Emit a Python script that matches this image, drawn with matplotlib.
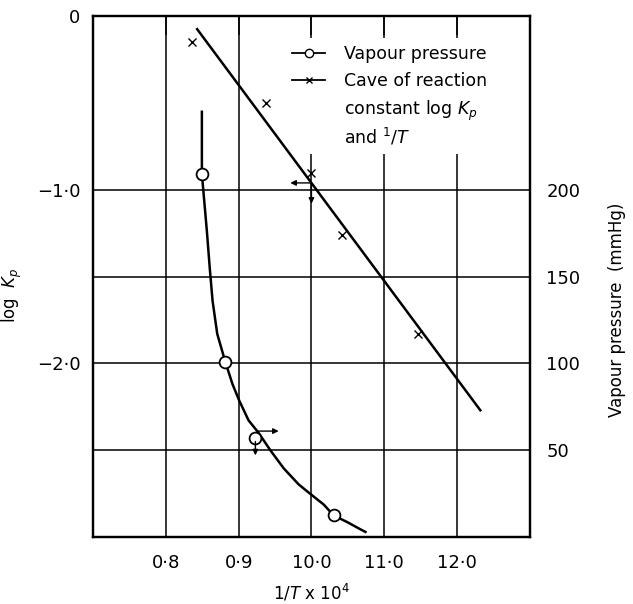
import matplotlib.pyplot as plt
from matplotlib.lines import Line2D

# x axis: 1/T x 10^4 (tick labels as printed on the original)
x_ticks = [0.8, 0.9, 1.0, 1.1, 1.2]
x_tick_labels = ['0·8', '0·9', '10·0', '11·0', '12·0']

# left axis: log Kp
logk_ticks = [0, -1.0, -2.0]
logk_tick_labels = ['0', '−1·0', '−2·0']

# right axis: vapour pressure (mmHg)
vp_ticks = [50, 100, 150, 200]

# reaction constant points (crosses) and the straight line through them
kp_x = [0.836, 0.938, 1.000, 1.042, 1.146]
kp_logk = [-0.15, -0.50, -0.90, -1.26, -1.83]
kp_line_x = [0.843, 1.232]
kp_line_logk = [-0.074, -2.27]

# vapour pressure points (circles) and the drawn curve
vp_x = [0.8495, 0.8816, 0.9228, 1.0305]
vp_mmhg = [209, 101, 57, 12.4]
vp_curve_x = [0.8495, 0.8495, 0.8509, 0.8564, 0.8603, 0.8642, 0.8706,
              0.8816, 0.8916, 0.9008, 0.9136, 0.9274, 0.9435, 0.9618,
              0.9824, 0.9985, 1.0168, 1.0305, 1.0490, 1.0673, 1.0742]
vp_curve_mmhg = [245, 209, 202.5, 176, 155, 136, 117,
                 101, 88, 78.6, 67.2, 60, 50, 39.6,
                 30.3, 24.8, 18.7, 12.4, 8.6, 4.4, 2.9]

fig = plt.figure(figsize=(6.33, 6.04), dpi=100)
ax = fig.add_axes([0.147, 0.111, 0.690, 0.862])
ax2 = ax.twinx()

lw = 1.8
# line sits above the legend box so it is not hidden by it
ax.plot(kp_line_x, kp_line_logk, color='black', lw=lw, zorder=6)
ax.plot(kp_x, kp_logk, linestyle='none', marker='x', color='black', ms=5.5, mew=1.0)

ax2.plot(vp_curve_x, vp_curve_mmhg, color='black', lw=lw, solid_joinstyle='round')
ax2.plot(vp_x, vp_mmhg, linestyle='none', marker='o', ms=8.5, mfc='white', mec='black', mew=1.3)

# reading arrows
arrow = dict(arrowstyle='-|>', color='black', lw=1.0, mutation_scale=8, shrinkA=0, shrinkB=0)
ax.annotate('', xy=(0.971, -0.96), xytext=(1.0, -0.96), arrowprops=arrow)
ax.annotate('', xy=(1.0, -1.08), xytext=(1.0, -0.96), arrowprops=arrow)
ax2.annotate('', xy=(0.955, 61), xytext=(0.927, 61), arrowprops=arrow)
ax2.annotate('', xy=(0.923, 47), xytext=(0.923, 55), arrowprops=arrow)

ax.set_xlim(0.7, 1.3)
ax.set_ylim(-3.0, 0)
ax2.set_ylim(0, 300)

ax.set_xticks(x_ticks)
ax.set_xticklabels(x_tick_labels)
ax.set_yticks(logk_ticks)
ax.set_yticklabels(logk_tick_labels)
ax2.set_yticks(vp_ticks)

ax.grid(axis='x', color='black', lw=1.1)
ax2.grid(axis='y', color='black', lw=1.1)

fs = 13
ax.tick_params(axis='x', length=0, pad=12, labelsize=fs)
ax.tick_params(axis='y', length=0, pad=9, labelsize=fs)
ax2.tick_params(axis='y', length=0, pad=12, labelsize=fs)

# short ticks along the top edge
ax2.xaxis.set_visible(True)
ax2.tick_params(axis='x', top=True, bottom=False, labeltop=False, labelbottom=False,
                direction='in', length=14, width=1.1)

for a in (ax, ax2):
    for s in a.spines.values():
        s.set_linewidth(1.6)

ax.set_xlabel('1/$T$ x 10$^4$', fontsize=12)
ax.xaxis.set_label_coords(0.5, -0.088)
ax.set_ylabel('log  $K_p$', fontsize=12)
ax.yaxis.set_label_coords(-0.158, 0.464)
ax2.set_ylabel('Vapour pressure  (mmHg)', fontsize=12)
ax2.yaxis.set_label_coords(1.178, 0.436)

handles = [
    Line2D([], [], color='black', lw=1.3, marker='o', ms=6, mfc='white', mec='black'),
    Line2D([], [], color='black', lw=1.3, marker='x', ms=4),
    Line2D([], [], linestyle='none'),
]
labels = ['Vapour pressure', 'Cave of reaction', 'constant log $K_p$\nand $^1/T$']
ax.legend(handles, labels, loc='upper left', bbox_to_anchor=(0.44, 0.958),
          borderaxespad=0, frameon=True, facecolor='white', edgecolor='none',
          framealpha=1, fancybox=False, fontsize=12.5, handlelength=1.9,
          handletextpad=1.1, labelspacing=0.5)

fig.savefig('out.png', dpi=100)
